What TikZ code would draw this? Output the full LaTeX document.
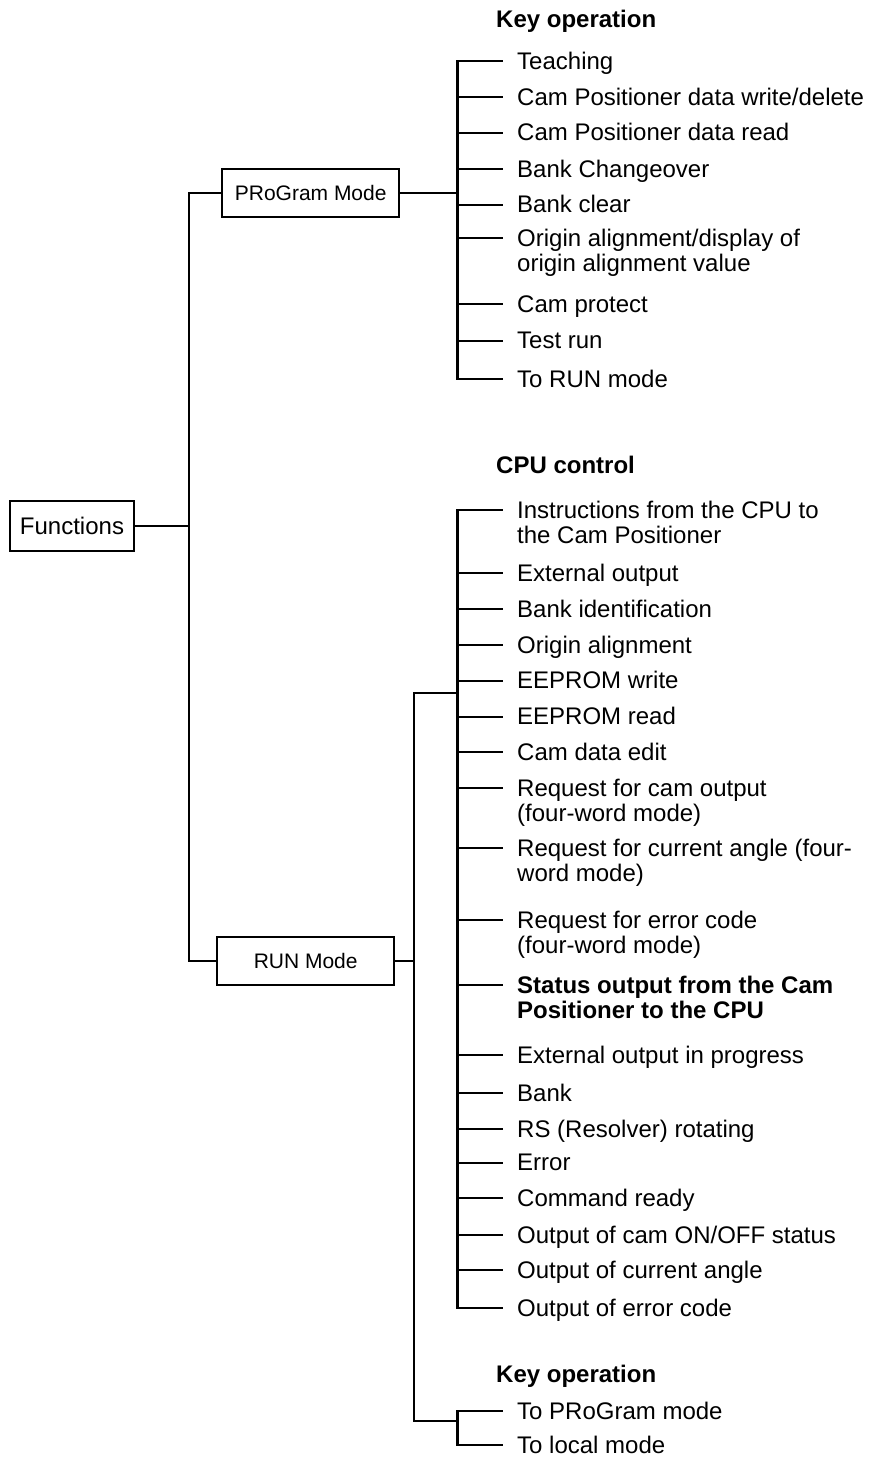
\documentclass[tikz,border=0pt]{standalone}
\usepackage{fontspec}
\setmainfont{Liberation Sans}
\newcommand\tln[2]{\vtop{\baselineskip=25pt\hbox{#1}\hbox{#2}}}
% #1 name, #2 tick y, #3 bus coordinate, #4 text
\newcommand\itm[4]{%
  \coordinate (#1t) at (502,#2);
  \draw[conn] (#3|-#1t) -- (#1t);
  \node[item] (#1) at (517,#2+8) {#4};
}
\begin{document}
\begin{tikzpicture}[x=1pt,y=-1pt,
  conn/.style={line width=2.1pt,line cap=rect},
  item/.style={anchor=base west,inner sep=0pt,font=\fontsize{24}{25}\selectfont},
  heading/.style={anchor=base west,inner sep=0pt,font=\fontsize{24}{25}\selectfont\bfseries},
  modebox/.style={draw,line width=2.1pt,inner sep=0pt,minimum width=176.7pt,minimum height=48.7pt,font=\fontsize{21}{23}\selectfont},
  rootbox/.style={draw,line width=2.1pt,inner sep=0pt,minimum width=124pt,minimum height=49.3pt,font=\fontsize{24}{25}\selectfont}]
\useasboundingbox (0,0) rectangle (871,1459);

% bus positions
\coordinate (mbus) at (189.3,0);
\coordinate (pbus) at (457.5,0);
\coordinate (rbus) at (414.3,0);

% boxes
\node[rootbox] (fn) at (72,526) {Functions};
\node[modebox] (prog) at (310.7,193) {PRoGram Mode};
\node[modebox] (run) at (305.7,961) {RUN Mode};

% main tree
\draw[conn] (fn.east) -- (mbus|-fn.east);
\draw[conn] (prog.west) -- (mbus|-prog.west) -- (mbus|-run.west) -- (run.west);

% PRoGram mode branch
\node[heading] (hk1) at (496,27.3) {Key operation};
\itm{p1}{61}{pbus}{Teaching}
\itm{p2}{97.3}{pbus}{Cam Positioner data write/delete}
\itm{p3}{132.7}{pbus}{Cam Positioner data read}
\itm{p4}{169}{pbus}{Bank Changeover}
\itm{p5}{204.7}{pbus}{Bank clear}
\itm{p6}{238.3}{pbus}{\tln{Origin alignment/display of}{origin alignment value}}
\itm{p7}{304}{pbus}{Cam protect}
\itm{p8}{340.7}{pbus}{Test run}
\itm{p9}{379}{pbus}{To RUN mode}
\draw[conn] (pbus|-p1t) -- (pbus|-p9t);
\draw[conn] (prog.east) -- (pbus|-prog.east);

% RUN mode branch
\draw[conn] (run.east) -- (rbus|-run.east);
\coordinate (cj) at (457.5,693.3);
\coordinate (kj) at (457.5,1421);
\draw[conn] (cj) -- (rbus|-cj) -- (rbus|-kj) -- (kj);

\node[heading] (hk2) at (496,1382) {Key operation};
\itm{k1}{1411}{pbus}{To PRoGram mode}
\itm{k2}{1445}{pbus}{To local mode}
\draw[conn] (pbus|-k1t) -- (pbus|-k2t);

\node[heading] (hc) at (496,473) {CPU control};
\itm{c1}{510}{pbus}{\tln{Instructions from the CPU to}{the Cam Positioner}}
\itm{c2}{573.3}{pbus}{External output}
\itm{c3}{609}{pbus}{Bank identification}
\itm{c4}{645}{pbus}{Origin alignment}
\itm{c5}{680.7}{pbus}{EEPROM write}
\itm{c6}{716.7}{pbus}{EEPROM read}
\itm{c7}{752.3}{pbus}{Cam data edit}
\itm{c8}{788.3}{pbus}{\tln{Request for cam output}{(four-word mode)}}
\itm{c9}{848.3}{pbus}{\tln{Request for current angle (four-}{word mode)}}
\itm{c10}{920}{pbus}{\tln{Request for error code}{(four-word mode)}}
\itm{c11}{985}{pbus}{\bfseries\tln{Status output from the Cam}{Positioner to the CPU}}
\itm{c12}{1055}{pbus}{External output in progress}
\itm{c13}{1093.3}{pbus}{Bank}
\itm{c14}{1129.3}{pbus}{RS (Resolver) rotating}
\itm{c15}{1162.7}{pbus}{Error}
\itm{c16}{1198.3}{pbus}{Command ready}
\itm{c17}{1235}{pbus}{Output of cam ON/OFF status}
\itm{c18}{1270}{pbus}{Output of current angle}
\itm{c19}{1308.3}{pbus}{Output of error code}
\draw[conn] (pbus|-c1t) -- (pbus|-c19t);
\end{tikzpicture}
\end{document}
